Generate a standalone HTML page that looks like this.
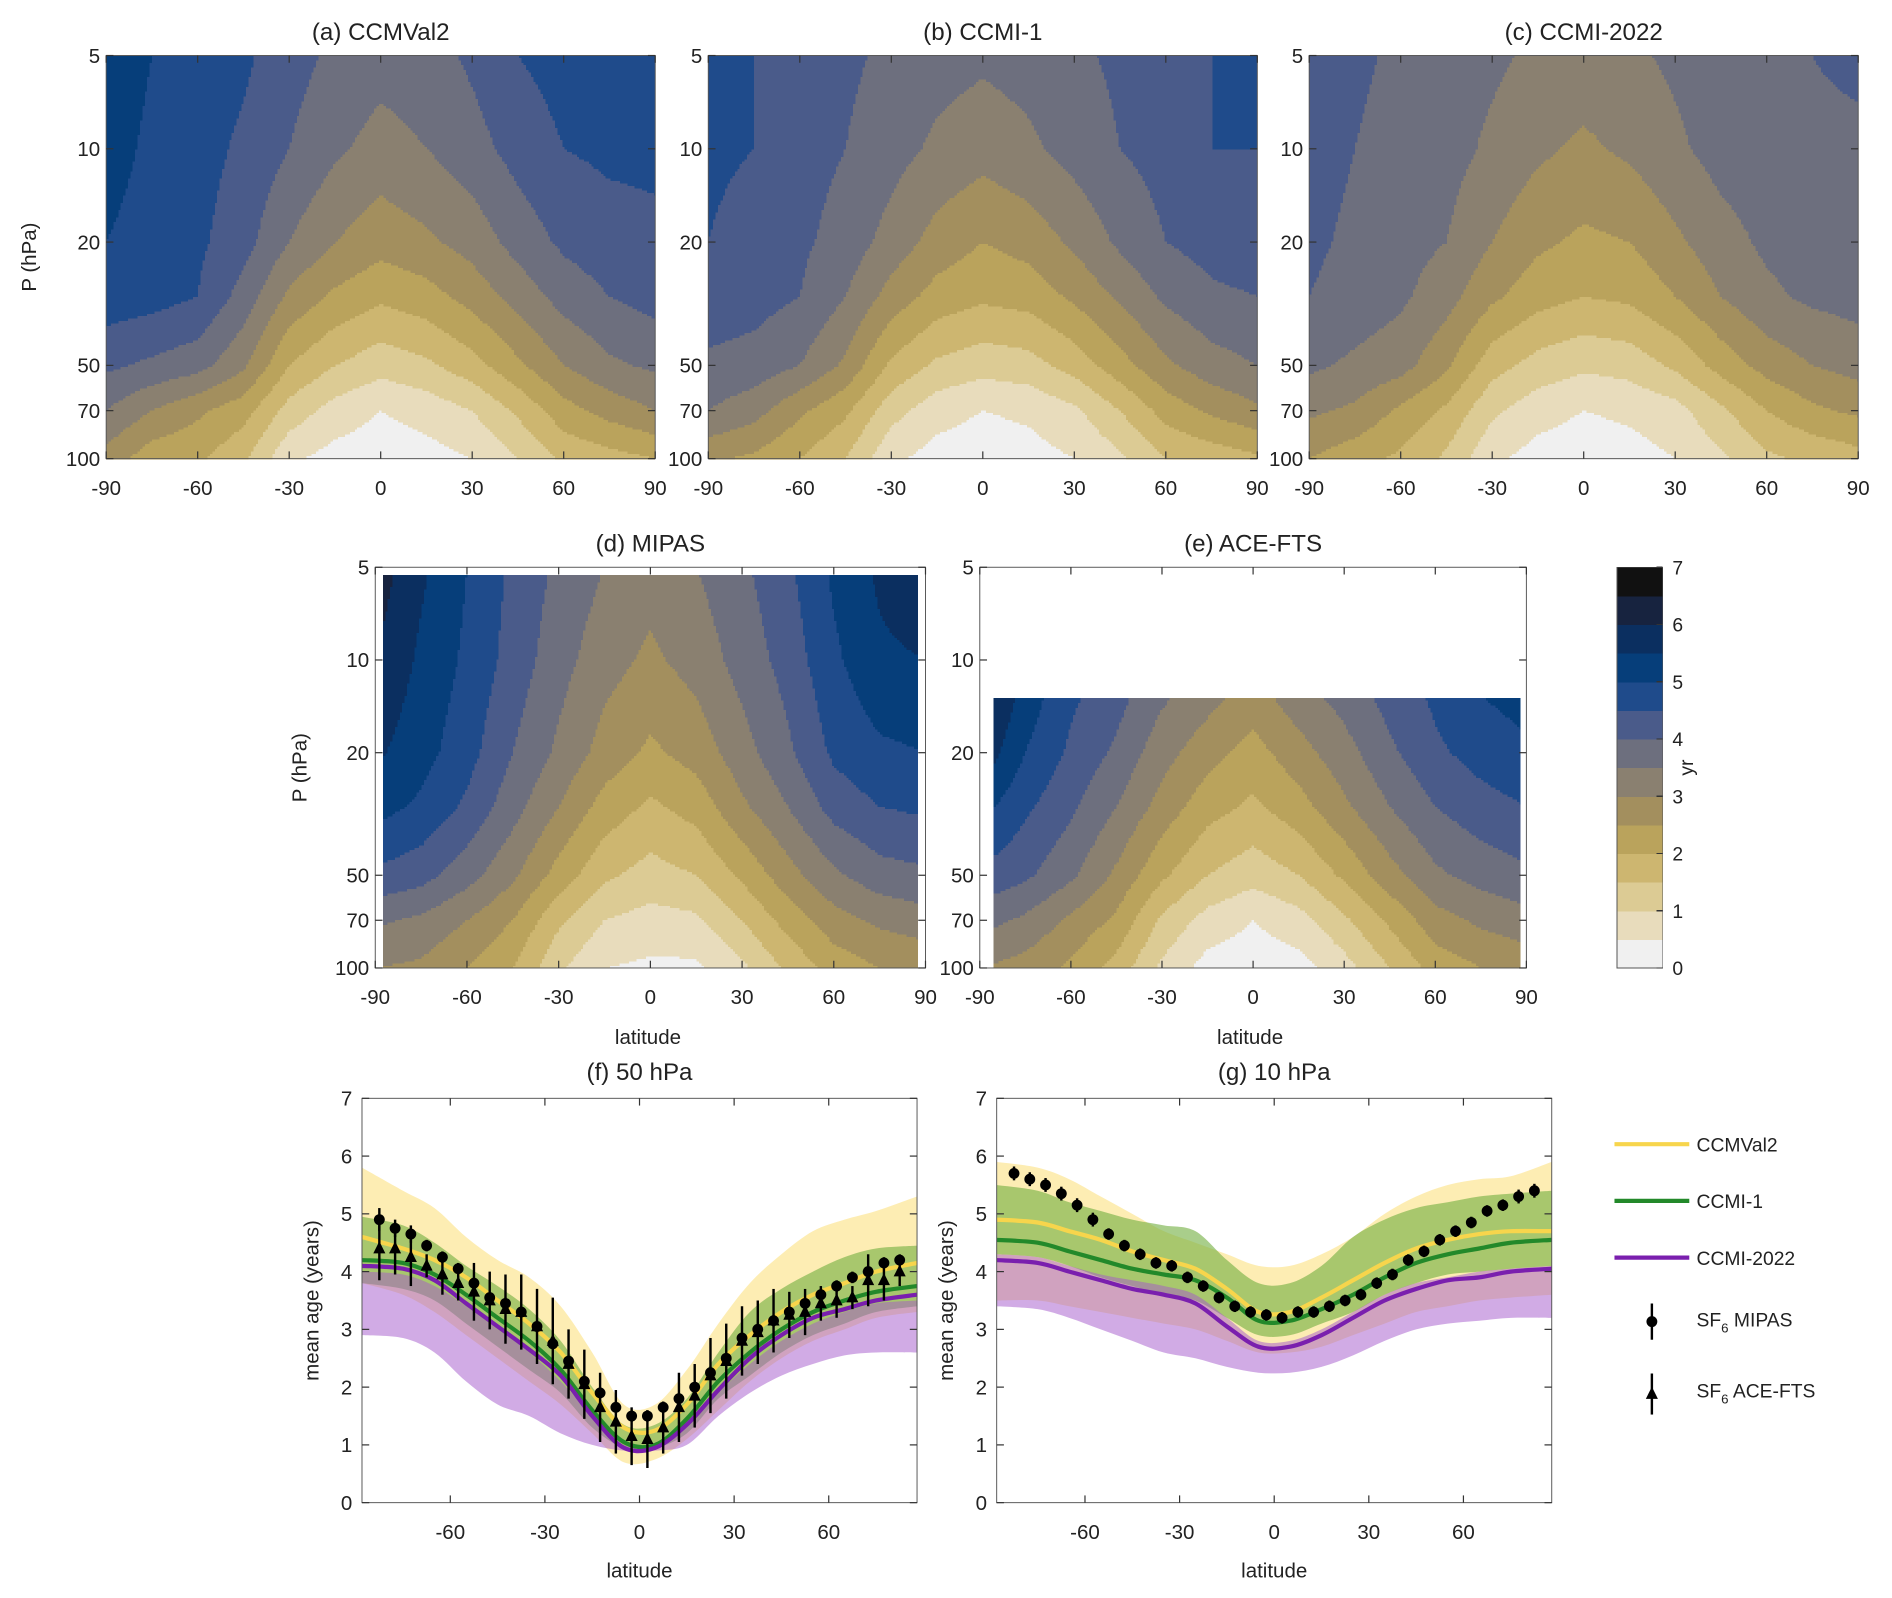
<!DOCTYPE html>
<html><head><meta charset="utf-8"><style>
html,body{margin:0;padding:0;background:#fff}
svg{display:block;font-family:"Liberation Sans",Arial,sans-serif}
</style></head><body>
<svg id="fig" width="1892" height="1598" viewBox="0 0 1568 1324" preserveAspectRatio="none" xmlns="http://www.w3.org/2000/svg"></svg>
<script>
// ---------- data: contour panels ----------
const lats = [-90,-75,-60,-45,-30,-15,0,15,30,45,60,75,90];
const presAll = [5,10,20,30,50,70,100];
const presACE = [13,20,30,50,70,100];
const ageCCMVal2 = [
 [5.3,5.0,4.8,4.6,4.2,3.9,3.7,3.8,4.1,4.5,4.7,4.8,4.8],
 [5.2,4.9,4.7,4.4,4.0,3.6,3.3,3.5,3.8,4.2,4.5,4.6,4.6],
 [5.0,4.8,4.6,4.2,3.5,3.0,2.7,2.9,3.2,3.7,4.1,4.3,4.4],
 [4.8,4.7,4.5,3.8,2.9,2.4,2.1,2.3,2.7,3.2,3.7,4.0,4.2],
 [4.1,3.9,3.7,3.1,2.0,1.5,1.2,1.4,1.8,2.4,3.0,3.4,3.6],
 [3.5,3.0,2.6,2.2,1.3,0.8,0.5,0.7,1.0,1.6,2.3,2.7,3.0],
 [2.8,2.2,2.1,1.6,0.6,0.3,0.2,0.3,0.5,1.0,1.6,1.8,2.0]];
const ageCCMI1 = [
 [4.6,4.5,4.3,4.1,3.9,3.7,3.6,3.7,3.9,4.1,4.3,4.5,4.6],
 [4.6,4.5,4.2,4.0,3.7,3.4,3.2,3.4,3.7,4.0,4.2,4.5,4.5],
 [4.5,4.3,4.1,3.8,3.3,2.8,2.5,2.7,3.1,3.6,4.0,4.2,4.3],
 [4.3,4.2,4.0,3.5,2.8,2.3,2.1,2.2,2.6,3.1,3.6,3.9,4.0],
 [3.9,3.8,3.5,2.9,1.9,1.4,1.2,1.3,1.7,2.3,2.9,3.3,3.5],
 [3.5,3.2,2.6,2.1,1.2,0.7,0.5,0.6,0.9,1.5,2.2,2.6,2.9],
 [2.6,2.4,2.0,1.5,0.6,0.3,0.2,0.3,0.5,0.9,1.5,1.7,1.9]];
const ageCCMI2022 = [
 [4.2,4.1,3.9,3.7,3.6,3.4,3.3,3.4,3.6,3.8,3.9,4.0,4.1],
 [4.2,4.0,3.8,3.7,3.4,3.1,2.9,3.1,3.4,3.7,3.8,3.9,3.9],
 [4.1,3.9,3.7,3.5,3.0,2.6,2.4,2.5,2.9,3.3,3.6,3.7,3.8],
 [4.0,3.8,3.6,3.2,2.6,2.2,2.0,2.1,2.5,3.0,3.4,3.6,3.7],
 [3.6,3.4,3.2,2.6,1.7,1.3,1.1,1.2,1.6,2.2,2.7,3.0,3.2],
 [3.1,2.9,2.4,1.9,1.1,0.7,0.5,0.6,0.8,1.4,2.0,2.4,2.6],
 [2.5,2.2,1.9,1.4,0.6,0.3,0.2,0.3,0.5,0.9,1.4,1.6,1.8]];
const ageMIPAS = [
 [6.3,5.6,5.0,4.4,3.9,3.5,3.2,3.5,3.9,4.4,5.1,5.6,5.9],
 [6.0,5.4,4.9,4.3,3.7,3.2,2.9,3.2,3.7,4.2,4.9,5.4,5.5],
 [5.6,5.2,4.7,4.0,3.4,2.8,2.4,2.7,3.3,3.9,4.6,4.9,5.0],
 [5.2,4.9,4.4,3.7,3.0,2.3,1.9,2.2,2.9,3.5,4.2,4.5,4.6],
 [4.4,4.2,3.7,3.1,2.3,1.6,1.3,1.5,2.1,2.8,3.4,3.8,3.9],
 [3.6,3.4,3.0,2.5,1.6,1.0,0.8,0.9,1.5,2.2,2.8,3.1,3.3],
 [3.0,2.9,2.5,2.0,1.1,0.5,0.4,0.4,0.9,1.6,2.2,2.5,2.6]];
const ageACE = [
 [6.3,5.3,4.6,4.2,3.6,3.2,2.8,3.3,3.7,4.2,4.6,5.0,5.2],
 [5.9,5.0,4.4,3.9,3.2,2.7,2.3,2.8,3.3,3.9,4.4,4.7,4.9],
 [5.2,4.6,4.1,3.5,2.8,2.2,1.9,2.3,2.9,3.5,4.0,4.3,4.5],
 [4.4,4.1,3.6,2.9,2.1,1.5,1.2,1.5,2.1,2.8,3.4,3.7,3.9],
 [3.7,3.4,2.9,2.4,1.4,0.8,0.5,0.8,1.4,2.1,2.8,3.1,3.3],
 [3.0,2.8,2.4,1.8,0.9,0.3,0.2,0.3,0.8,1.5,2.2,2.5,2.7]];
const cbTicks = [0,1,2,3,4,5,6,7];
const pTicks = [5,10,20,50,70,100];
const latTicks = [-90,-60,-30,0,30,60,90];

// ---------- data: line panels ----------
const lineLats = [-88,-75,-65,-55,-45,-35,-25,-15,-5,5,15,25,35,45,55,65,75,88];
const f_ccmval2 = [4.6,4.4,4.2,3.9,3.5,3.1,2.6,1.9,1.3,1.25,1.7,2.4,2.9,3.3,3.6,3.8,4.0,4.15];
const f_ccmi1 = [4.2,4.15,3.95,3.6,3.2,2.8,2.3,1.6,1.05,1.0,1.45,2.1,2.6,3.0,3.3,3.5,3.65,3.75];
const f_ccmi2022 = [4.1,4.05,3.85,3.45,3.05,2.65,2.2,1.5,0.95,0.95,1.35,1.95,2.5,2.9,3.2,3.35,3.5,3.6];
const f_yelHi = [5.8,5.4,5.1,4.6,4.2,3.9,3.4,2.6,1.7,1.7,2.3,3.1,3.8,4.3,4.7,4.9,5.05,5.3];
const f_yelLo = [3.8,3.6,3.3,2.9,2.5,2.1,1.7,1.2,0.7,0.75,1.1,1.6,2.1,2.5,2.8,3.0,3.2,3.3];
const f_grnHi = [4.95,4.8,4.5,4.1,3.75,3.35,2.8,2.0,1.35,1.35,1.8,2.6,3.3,3.7,4.0,4.25,4.4,4.45];
const f_grnLo = [3.8,3.7,3.5,3.1,2.7,2.3,1.9,1.3,0.95,0.95,1.2,1.8,2.2,2.6,2.9,3.1,3.3,3.4];
const f_purHi = [4.0,3.95,3.75,3.4,3.0,2.6,2.1,1.5,1.0,1.0,1.3,1.9,2.4,2.8,3.1,3.3,3.45,3.5];
const f_purLo = [2.9,2.85,2.6,2.1,1.7,1.5,1.2,1.0,0.9,0.9,1.0,1.5,1.9,2.2,2.4,2.55,2.6,2.6];
const g_ccmval2 = [4.9,4.85,4.7,4.55,4.35,4.2,4.05,3.7,3.3,3.3,3.55,3.85,4.15,4.4,4.55,4.65,4.7,4.7];
const g_ccmi1 = [4.55,4.5,4.35,4.2,4.05,3.95,3.85,3.55,3.15,3.15,3.35,3.6,3.9,4.15,4.3,4.4,4.5,4.55];
const g_ccmi2022 = [4.2,4.15,4.0,3.85,3.7,3.6,3.45,3.05,2.7,2.7,2.9,3.2,3.5,3.7,3.85,3.9,4.0,4.05];
const g_yelHi = [5.9,5.8,5.6,5.3,5.0,4.7,4.5,4.3,4.1,4.1,4.3,4.6,5.0,5.3,5.5,5.6,5.65,5.9];
const g_yelLo = [3.5,3.5,3.4,3.3,3.2,3.1,3.0,2.8,2.6,2.6,2.7,2.9,3.1,3.3,3.4,3.5,3.55,3.6];
const g_grnHi = [5.5,5.4,5.2,5.05,4.9,4.8,4.7,4.2,3.8,3.8,4.1,4.6,4.9,5.1,5.2,5.3,5.35,5.4];
const g_grnLo = [4.3,4.25,4.1,3.9,3.75,3.6,3.5,3.2,2.9,2.9,3.1,3.3,3.6,3.8,3.95,4.0,4.05,4.1];
const g_purHi = [4.3,4.25,4.1,3.95,3.85,3.75,3.6,3.2,2.8,2.8,3.0,3.3,3.6,3.8,3.9,4.0,4.05,4.1];
const g_purLo = [3.4,3.35,3.2,3.0,2.8,2.6,2.5,2.35,2.25,2.25,2.35,2.55,2.8,3.0,3.1,3.15,3.2,3.2];
const obsLats = [-82.5,-77.5,-72.5,-67.5,-62.5,-57.5,-52.5,-47.5,-42.5,-37.5,-32.5,-27.5,-22.5,-17.5,-12.5,-7.5,-2.5,2.5,7.5,12.5,17.5,22.5,27.5,32.5,37.5,42.5,47.5,52.5,57.5,62.5,67.5,72.5,77.5,82.5];
const f_mipas = [4.9,4.75,4.65,4.45,4.25,4.05,3.8,3.55,3.45,3.3,3.05,2.75,2.45,2.1,1.9,1.65,1.5,1.5,1.65,1.8,2.0,2.25,2.5,2.85,3.0,3.15,3.3,3.45,3.6,3.75,3.9,4.0,4.15,4.2];
const f_mipasErr = [0.2,0.15,0.15,0.1,0.1,0.1,0.1,0.1,0.1,0.1,0.1,0.1,0.1,0.1,0.1,0.1,0.1,0.1,0.1,0.1,0.1,0.1,0.1,0.1,0.1,0.1,0.1,0.1,0.1,0.1,0.1,0.1,0.1,0.1];
const f_ace = [4.4,4.4,4.25,4.1,3.95,3.8,3.65,3.5,3.35,3.3,3.05,2.8,2.4,2.05,1.65,1.4,1.15,1.1,1.3,1.65,1.85,2.2,2.45,2.8,2.95,3.15,3.25,3.3,3.45,3.5,3.55,3.85,3.85,4.0];
const f_aceErr = [0.55,0.45,0.5,0.2,0.35,0.3,0.5,0.5,0.6,0.65,0.65,0.75,0.6,0.6,0.6,0.55,0.5,0.5,0.45,0.6,0.55,0.65,0.65,0.6,0.55,0.55,0.4,0.4,0.3,0.3,0.2,0.45,0.35,0.25];
const g_mipas = [5.7,5.6,5.5,5.35,5.15,4.9,4.65,4.45,4.3,4.15,4.1,3.9,3.75,3.55,3.4,3.3,3.25,3.2,3.3,3.3,3.4,3.5,3.6,3.8,3.95,4.2,4.35,4.55,4.7,4.85,5.05,5.15,5.3,5.4];
const g_mipasErr = [0.12,0.12,0.12,0.12,0.12,0.12,0.1,0.1,0.1,0.1,0.1,0.1,0.1,0.1,0.1,0.1,0.1,0.1,0.1,0.1,0.1,0.1,0.1,0.1,0.1,0.1,0.1,0.1,0.1,0.1,0.1,0.1,0.12,0.12];
const ageTicks = [0,1,2,3,4,5,6,7];
const lineLatTicks = [-60,-30,0,30,60];

// ---------- helpers ----------
const NS="http://www.w3.org/2000/svg";
const svg=document.getElementById('fig');
function mk(tag,attrs,parent){const e=document.createElementNS(NS,tag);for(const k in attrs)e.setAttribute(k,attrs[k]);(parent||svg).appendChild(e);return e;}
function txt(s,x,y,size,anchor,parent,rot){const t=mk('text',{x:x,y:y,'font-size':size,'text-anchor':anchor||'middle',fill:'#222'},parent);if(rot)t.setAttribute('transform',`rotate(${rot} ${x} ${y})`);t.textContent=s;return t;}
const colors=['#f0f0f0','#e8dcbc','#dccb94','#cdb670','#baa35c','#a38f5e','#8a8070','#6d6f7e','#4a5b8a','#1f4b8b','#063e7a','#0b2f60','#17233f','#111111'];
function levelOf(v){let i=Math.floor(v/0.5);return Math.max(0,Math.min(13,i));}
function interp(lat,p,ps,vals){
  let i=0;while(i<lats.length-2&&lat>lats[i+1])i++;
  let tx=(lat-lats[i])/(lats[i+1]-lats[i]);tx=Math.max(0,Math.min(1,tx));
  const lp=Math.log(p);let j=0;while(j<ps.length-2&&lp>Math.log(ps[j+1]))j++;
  let ty=(lp-Math.log(ps[j]))/(Math.log(ps[j+1])-Math.log(ps[j]));ty=Math.max(0,Math.min(1,ty));
  const a=vals[j][i]*(1-tx)+vals[j][i+1]*tx, b=vals[j+1][i]*(1-tx)+vals[j+1][i+1]*tx;
  return a*(1-ty)+b*ty;
}
function contourPanel(o){
  const g=mk('g',{});
  
  
  const xs=v=>o.x0+(v+90)/180*(o.x1-o.x0);
  const ys=p=>o.top+(Math.log(p)-Math.log(5))/Math.log(20)*(o.bot-o.top);
  const fill=mk('g',{'shape-rendering':'crispEdges'},g);
  
  
  const xa=xs(o.latMin), xb=xs(o.latMax), ya=ys(o.pMin);
  const step=2;
  for(let y=ya;y<o.bot-0.01;y+=step){
    const h=Math.min(step,o.bot-y);
    const p=Math.exp(Math.log(5)+((y+h/2)-o.top)/(o.bot-o.top)*Math.log(20));
    let runStart=xa,runLev=-1;
    for(let x=xa;x<xb;x+=step){
      const lat=-90+(Math.min(x+1,xb)-o.x0)/(o.x1-o.x0)*180;
      const lv=levelOf(interp(lat,p,o.ps,o.vals));
      if(lv!==runLev){
        if(runLev>=0){mk('rect',{x:runStart,y:y,width:x-runStart+0.6,height:h+0.6,fill:colors[runLev]},fill);}
        runStart=x;runLev=lv;
      }
    }
    if(runLev>=0){mk('rect',{x:runStart,y:y,width:xb-runStart,height:h+0.6,fill:colors[runLev]},fill);}
  }
  mk('rect',{x:o.x0,y:o.top,width:o.x1-o.x0,height:o.bot-o.top,fill:'none',stroke:'#555','stroke-width':0.8},g);
  latTicks.forEach(t=>{const x=xs(t);mk('line',{x1:x,x2:x,y1:o.bot,y2:o.bot-6,stroke:'#333'},g);mk('line',{x1:x,x2:x,y1:o.top,y2:o.top+6,stroke:'#333'},g);
    const l=txt(String(t),x,o.bot+30,17,'middle',g);});
  pTicks.forEach(t=>{const y=ys(t);mk('line',{x1:o.x0,x2:o.x0+6,y1:y,y2:y,stroke:'#333'},g);mk('line',{x1:o.x1,x2:o.x1-6,y1:y,y2:y,stroke:'#333'},g);
    const l=txt(String(t),o.x0-5,y+6,17,'end',g);});
  const tt=txt(o.title,(o.x0+o.x1)/2,o.top-13,20,'middle',g);
  
}
contourPanel({name:'ccmval2',title:'(a) CCMVal2',x0:88,x1:543,top:46,bot:380,ps:presAll,vals:ageCCMVal2,latMin:-90,latMax:90,pMin:5});
contourPanel({name:'ccmi1',title:'(b) CCMI-1',x0:587,x1:1042,top:46,bot:380,ps:presAll,vals:ageCCMI1,latMin:-90,latMax:90,pMin:5});
contourPanel({name:'ccmi2022',title:'(c) CCMI-2022',x0:1085,x1:1540,top:46,bot:380,ps:presAll,vals:ageCCMI2022,latMin:-90,latMax:90,pMin:5});
contourPanel({name:'mipas',title:'(d) MIPAS',x0:311,x1:767,top:470,bot:802,ps:presAll,vals:ageMIPAS,latMin:-87.5,latMax:87.5,pMin:5.3});
contourPanel({name:'acefts',title:'(e) ACE-FTS',x0:812,x1:1265,top:470,bot:802,ps:presACE,vals:ageACE,latMin:-85.5,latMax:88,pMin:13.3});
(function(){
  const a=txt('P (hPa)',30,213,17,'middle',null,-90);
  const b=txt('P (hPa)',254,636,17,'middle',null,-90);
  const c=txt('latitude',537,865,17);
  const d=txt('latitude',1036,865,17);
})();
(function(){
  const g=mk('g',{'shape-rendering':'crispEdges'});
  
  const x=1340,w=38,top=470,bot=802;const yv=v=>bot-v/7*(bot-top);
  colors.forEach((c,i)=>{mk('rect',{x:x,y:yv((i+1)*0.5),width:w,height:yv(i*0.5)-yv((i+1)*0.5)+0.5,fill:c},g);});
  mk('rect',{x:x,y:top,width:w,height:bot-top,fill:'none',stroke:'#555','stroke-width':0.8},g);
  cbTicks.forEach(t=>{const y=yv(t);mk('line',{x1:x+w-5,x2:x+w,y1:y,y2:y,stroke:'#333'},g);const l=txt(String(t),x+w+8,y+6,16,'start',g);});
  const u=txt('yr',1403,636,16,'middle',g,-90);
})();

function smooth(pts){let d=`M${pts[0][0]},${pts[0][1]}`;for(let i=0;i<pts.length-1;i++){const p0=pts[Math.max(0,i-1)],p1=pts[i],p2=pts[i+1],p3=pts[Math.min(pts.length-1,i+2)];
  d+=` C${p1[0]+(p2[0]-p0[0])/6},${p1[1]+(p2[1]-p0[1])/6} ${p2[0]-(p3[0]-p1[0])/6},${p2[1]-(p3[1]-p1[1])/6} ${p2[0]},${p2[1]}`;}return d;}
function linePanel(o){
  const g=mk('g',{});
  
  const xs=v=>o.x0+(v+88)/176*(o.x1-o.x0);const ys=v=>o.bot-v/7*(o.bot-o.top);
  const band=(hi,lo,col,op,nm)=>{const up=lineLats.map((l,i)=>[xs(l),ys(hi[i])]);const dn=lineLats.map((l,i)=>[xs(l),ys(lo[i])]).reverse();
    const d=smooth(up)+' L'+smooth(dn).slice(1)+' Z';const p=mk('path',{d:d,fill:col,'fill-opacity':op,stroke:'none'},g);};
  band(o.yelHi,o.yelLo,'#fce79a',0.75,'ccmval2-spread-band');
  band(o.grnHi,o.grnLo,'#6fae3e',0.6,'ccmi1-spread-band');
  band(o.purHi,o.purLo,'#a458cc',0.5,'ccmi2022-spread-band');
  const line=(v,col,nm)=>{const p=mk('path',{d:smooth(lineLats.map((l,i)=>[xs(l),ys(v[i])])),fill:'none',stroke:col,'stroke-width':3.5},g);};
  line(o.l1,'#f7d54c','ccmval2-line');line(o.l2,'#23892a','ccmi1-line');line(o.l3,'#7a1fae','ccmi2022-line');
  obsLats.forEach((l,i)=>{const x=xs(l);
    if(o.ace){const ae=o.aceErr[i];const b=mk('line',{x1:x,x2:x,y1:ys(o.ace[i]-ae),y2:ys(o.ace[i]+ae),stroke:'#000','stroke-width':2},g);
      const y=ys(o.ace[i]);const t=mk('path',{d:`M${x},${y-6} L${x+5},${y+4} L${x-5},${y+4} Z`,fill:'#000'},g);}
    const me=o.mErr[i];const b2=mk('line',{x1:x,x2:x,y1:ys(o.mip[i]-me),y2:ys(o.mip[i]+me),stroke:'#000','stroke-width':2},g);
    const c=mk('circle',{cx:x,cy:ys(o.mip[i]),r:4.5,fill:'#000'},g);});
  mk('rect',{x:o.x0,y:o.top,width:o.x1-o.x0,height:o.bot-o.top,fill:'none',stroke:'#555','stroke-width':0.8},g);
  lineLatTicks.forEach(t=>{const x=xs(t);mk('line',{x1:x,x2:x,y1:o.bot,y2:o.bot-6,stroke:'#333'},g);mk('line',{x1:x,x2:x,y1:o.top,y2:o.top+6,stroke:'#333'},g);
    const l=txt(String(t),x,o.bot+30,17,'middle',g);});
  ageTicks.forEach(t=>{const y=ys(t);mk('line',{x1:o.x0,x2:o.x0+6,y1:y,y2:y,stroke:'#333'},g);mk('line',{x1:o.x1,x2:o.x1-6,y1:y,y2:y,stroke:'#333'},g);
    const l=txt(String(t),o.x0-8,y+6,17,'end',g);});
  const tt=txt(o.title,(o.x0+o.x1)/2,o.top-15,20,'middle',g);
  const xl=txt('latitude',(o.x0+o.x1)/2,o.bot+62,17,'middle',g);
  const yl=txt('mean age (years)',o.x0-36,(o.top+o.bot)/2,17,'middle',g,-90);
}
linePanel({name:'50hpa',title:'(f) 50 hPa',x0:300,x1:760,top:910,bot:1245,l1:f_ccmval2,l2:f_ccmi1,l3:f_ccmi2022,yelHi:f_yelHi,yelLo:f_yelLo,grnHi:f_grnHi,grnLo:f_grnLo,purHi:f_purHi,purLo:f_purLo,mip:f_mipas,mErr:f_mipasErr,ace:f_ace,aceErr:f_aceErr});
linePanel({name:'10hpa',title:'(g) 10 hPa',x0:826,x1:1286,top:910,bot:1245,l1:g_ccmval2,l2:g_ccmi1,l3:g_ccmi2022,yelHi:g_yelHi,yelLo:g_yelLo,grnHi:g_grnHi,grnLo:g_grnLo,purHi:g_purHi,purLo:g_purLo,mip:g_mipas,mErr:g_mipasErr,ace:null,aceErr:null});

(function(){
  const g=mk('g',{});
  const ent=[['CCMVal2','#f7d54c',948],['CCMI-1','#23892a',995],['CCMI-2022','#7a1fae',1042]];
  ent.forEach(e=>{const s=mk('g',{},g);
    mk('line',{x1:1338,x2:1400,y1:e[2],y2:e[2],stroke:e[1],'stroke-width':3.5},s);txt(e[0],1406,e[2]+6,16,'start',s);});
  const m=mk('g',{},g);
  mk('line',{x1:1369,x2:1369,y1:1080,y2:1110,stroke:'#000','stroke-width':2},m);mk('circle',{cx:1369,cy:1095,r:4.5,fill:'#000'},m);
  let t=mk('text',{x:1406,y:1099,'font-size':16,fill:'#222'},m);t.innerHTML='SF<tspan font-size="11" dy="5">6</tspan><tspan dy="-5"> MIPAS</tspan>';
  const a=mk('g',{},g);
  mk('line',{x1:1369,x2:1369,y1:1138,y2:1172,stroke:'#000','stroke-width':2},a);mk('path',{d:'M1369,1149 L1374,1159 L1364,1159 Z',fill:'#000'},a);
  t=mk('text',{x:1406,y:1158,'font-size':16,fill:'#222'},a);t.innerHTML='SF<tspan font-size="11" dy="5">6</tspan><tspan dy="-5"> ACE-FTS</tspan>';
})();
</script>
</body></html>
